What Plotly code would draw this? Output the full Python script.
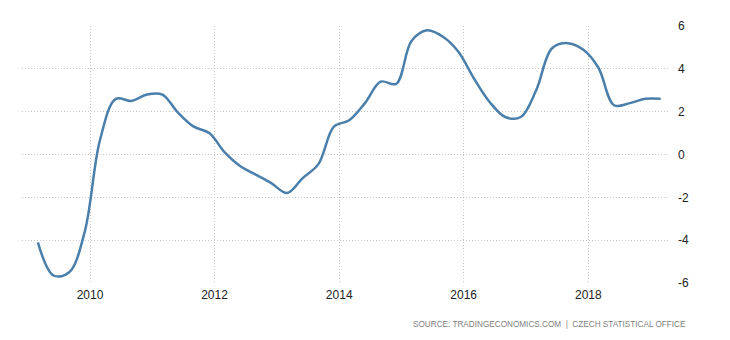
import plotly.graph_objects as go

dates = [
    "2009-03-01", "2009-06-01", "2009-09-01", "2009-12-01",
    "2010-03-01", "2010-06-01", "2010-09-01", "2010-12-01",
    "2011-03-01", "2011-06-01", "2011-09-01", "2011-12-01",
    "2012-03-01", "2012-06-01", "2012-09-01", "2012-12-01",
    "2013-03-01", "2013-06-01", "2013-09-01", "2013-12-01",
    "2014-03-01", "2014-06-01", "2014-09-01", "2014-12-01",
    "2015-03-01", "2015-06-01", "2015-09-01", "2015-12-01",
    "2016-03-01", "2016-06-01", "2016-09-01", "2016-12-01",
    "2017-03-01", "2017-06-01", "2017-09-01", "2017-12-01",
    "2018-03-01", "2018-06-01", "2018-09-01", "2018-12-01",
    "2019-03-01",
]
gdp_growth = [
    -4.1, -5.65, -5.5, -3.6,
    0.7, 2.6, 2.5, 2.8,
    2.8, 1.95, 1.3, 1.0,
    0.1, -0.55, -0.95, -1.35,
    -1.8, -1.1, -0.45, 1.3,
    1.6, 2.4, 3.4, 3.3,
    5.3, 5.8, 5.5, 4.8,
    3.55, 2.45, 1.75, 1.75,
    3.0, 4.95, 5.2, 4.9,
    4.05, 2.3, 2.4, 2.6,
    2.6,
]
y_ticks = [-6, -4, -2, 0, 2, 4, 6]
y_tick_labels = ["-6", "-4", "-2", "0", "2", "4", "6"]
source_text = "SOURCE: TRADINGECONOMICS.COM  |  CZECH STATISTICAL OFFICE"

fig = go.Figure()
fig.add_trace(go.Scatter(
    x=dates, y=gdp_growth, mode="lines",
    line=dict(color="#4a7fab", width=2.5, shape="spline", smoothing=1.0),
    hoverinfo="x+y", showlegend=False,
))

fig.update_layout(
    width=730, height=340,
    margin=dict(l=14, r=70, t=11, b=65),
    paper_bgcolor="white", plot_bgcolor="white",
    font=dict(family="Liberation Sans, Arial, sans-serif", size=12, color="#222"),
    xaxis=dict(
        type="date",
        range=["2008-11-28", "2019-04-13"],
        tick0="2010-01-01", dtick="M24", tickformat="%Y",
        showgrid=True, gridcolor="#c8c8c8", griddash="1px,2px", gridwidth=1,
        zeroline=False, showline=False, ticks="",
        ticklabelstandoff=3,
        tickfont=dict(size=12, color="#222"),
    ),
    yaxis=dict(
        side="right", range=[-6, 6], tickvals=y_ticks, ticktext=y_tick_labels,
        showgrid=True, gridcolor="#c8c8c8", griddash="1px,2px", gridwidth=1,
        zeroline=False, showline=False, ticks="",
        ticklabelstandoff=9,
        tickfont=dict(size=12, color="#222"),
    ),
    annotations=[dict(
        text=source_text, xref="paper", yref="paper",
        x=1.031, y=-0.162, xanchor="right", yanchor="middle",
        showarrow=False, font=dict(size=8.2, color="#808080"),
    )],
)

fig.write_html("out.html")
